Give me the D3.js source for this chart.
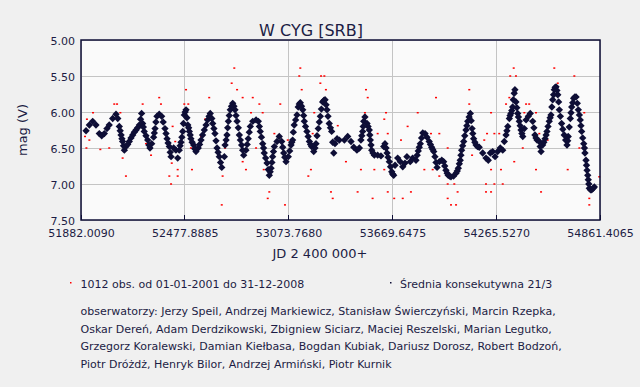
<!DOCTYPE html>
<html>
<head>
<meta charset="utf-8">
<script src="https://cdn.jsdelivr.net/npm/d3@7"></script>
<style>
  body { margin: 0; background: #f0f0f0; }
  svg { display: block; }
  text { font-family: "DejaVu Sans", Verdana, sans-serif; fill: #1c1c44; }
</style>
</head>
<body>
<div id="chart"></div>
<script>
// tick labels
var xTicks = [51882.0090, 52477.8885, 53073.7680, 53669.6475, 54265.5270, 54861.4065];
var yTicks = [5.00, 5.50, 6.00, 6.50, 7.00, 7.50];

// running mean (Srednia konsekutywna 21/3), JD and magnitude (order does not matter)
var meanJD = [51911,51930,51949,51968,51987,52001,52016,52031,52044,52064,52083,52093,52102,52112,52121,52131,52140,52159,52179,52198,
  52217,52230,52236,52245,52265,52278,52288,52299,52307,52318,52331,52345,52364,52376,52389,52399,52414,52427,52437,52446,
  52456,52466,52475,52485,52495,52504,52513,52529,52542,52555,52571,52590,52609,52624,
  52638,52651,52663,52676,52690,52705,52709,52720,52728,52739,52753,52766,52778,52791,52804,52816,52829,52842,52854,52868,
  52887,52900,52911,52925,52934,52950,52963,52973,52982,52992,53007,53020,53034,53046,53059,53072,53088,53097,53106,53122,
  53129,53141,53155,53164,53179,53193,53206,53218,53231,53244,53256,53269,53283,53294,53307,53321,53333,53340,53352,53365,
  53394,53413,53432,53448,53466,53480,53489,53499,53505,53512,53524,53537,53543,53551,53566,53585,53604,53620,53627,53639,
  53652,53666,53677,53685,53700,53715,53729,53742,53753,53772,53786,53805,53818,53830,53844,53857,53868,53881,53895,53907,
  53914,53926,53939,53953,53964,53977,53990,54006,54021,54035,54048,54059,54067,54079,54092,54102,54117,
  54127,54136,54150,54168,54188,54207,54220,54232,54245,54259,54274,54289,54303,54312,54322,54327,54332,54341,54345,54350,
  54355,54360,54364,54369,54373,54379,54389,54398,54408,54418,54427,54437,54450,54461,54475,54488,54500,54513,54523,54532,
  54546,54557,54570,54580,54590,54599,54609,54619,54628,54641,54656,54672,54679,54691,54699,54710,54724,54737,54748,54756,
  54768,54775,54781,54787,54794,54800,54814,54829,
  52107,52117,52126,52150,52169,52188,52207,52224,52240,52255,52272,52303,52312,52354,52370,52382,52394,
  52451,52461,52470,52480,52490,52500,52509,52520,52535,52563,52580,52600,52617,
  52633,52645,52657,52669,52683,52715,52724,52733,52746,52760,52772,52785,52797,52810,52836,52848,
  52906,52918,52930,52942,52957,52968,52978,52987,53040,53052,53080,53092,53101,53114,53135,
  53148,53160,53171,53186,53200,53225,53237,53250,53262,53276,53289,53300,53314,53327,
  53494,53502,53530,53540,53547,53558,53633,53645,53659,53671,53812,53824,53837,53888,53901,53920,
  53970,53984,53998,54042,54054,54063,54073,54085,54097,54110,
  54122,54131,54143,54158,54384,54393,54403,54413,54482,54494,54518,
  54539,54552,54563,54575,54585,54595,54604,54614,54624,54634,54648,54664,
  54676,54685,54695,54705,54717,54731,54743,54752,54762,54772,54784,54791,54797,54807,54822];
var meanMag = [6.26,6.18,6.13,6.18,6.30,6.33,6.30,6.23,6.18,6.09,6.03,6.09,6.20,6.32,6.41,6.53,6.48,6.41,6.32,6.25,
  6.18,6.02,6.16,6.27,6.39,6.50,6.44,6.35,6.23,6.06,6.03,6.06,6.23,6.37,6.48,6.62,6.50,6.53,6.64,6.53,
  6.42,6.27,6.04,5.97,6.18,6.27,6.37,6.46,6.55,6.50,6.39,6.25,6.11,6.02,
  6.16,6.30,6.50,6.62,6.77,6.62,6.46,6.32,6.13,5.97,5.88,5.97,6.13,6.32,6.46,6.60,6.53,6.37,6.20,6.13,
  6.11,6.13,6.27,6.44,6.57,6.71,6.88,6.78,6.62,6.48,6.41,6.34,6.41,6.57,6.69,6.62,6.46,6.39,6.18,6.04,
  5.93,5.87,5.97,6.13,6.27,6.41,6.48,6.55,6.44,6.23,6.06,5.86,5.83,5.97,6.16,6.27,6.57,6.44,6.37,6.39,
  6.39,6.34,6.41,6.49,6.53,6.50,6.39,6.27,6.13,6.07,6.16,6.25,6.39,6.53,6.60,6.60,6.61,6.48,6.44,6.57,
  6.69,6.83,6.88,6.74,6.64,6.69,6.76,6.71,6.62,6.69,6.64,6.67,6.54,6.44,6.29,6.30,6.35,6.41,6.49,6.55,
  6.62,6.77,6.69,6.67,6.69,6.81,6.88,6.90,6.89,6.85,6.78,6.67,6.53,6.41,6.25,6.13,6.02,
  6.23,6.37,6.46,6.49,6.57,6.64,6.67,6.57,6.55,6.62,6.55,6.50,6.53,6.41,6.32,6.26,6.20,6.09,6.05,6.02,
  5.98,5.93,5.83,5.74,5.69,5.86,6.02,6.13,6.25,6.34,6.23,6.11,6.06,6.02,6.13,6.32,6.39,6.41,6.55,6.46,
  6.37,6.27,6.13,6.04,5.83,5.69,5.65,5.76,5.97,6.16,6.32,6.46,6.34,6.09,5.93,5.81,5.79,5.97,6.11,6.27,
  6.44,6.57,6.67,6.81,6.94,7.06,7.08,7.04,
  6.26,6.37,6.47,6.45,6.36,6.28,6.22,6.10,6.21,6.33,6.46,6.29,6.14,6.14,6.30,6.43,6.56,
  6.47,6.35,6.16,6.00,6.08,6.22,6.32,6.42,6.51,6.45,6.32,6.18,6.06,
  6.09,6.23,6.40,6.56,6.70,6.39,6.22,6.05,5.92,5.92,6.05,6.22,6.39,6.53,6.45,6.28,
  6.20,6.35,6.50,6.64,6.80,6.83,6.70,6.55,6.49,6.63,6.54,6.42,6.28,6.11,5.89,
  5.92,6.05,6.20,6.34,6.45,6.50,6.33,6.14,5.96,5.84,5.90,6.06,6.22,6.42,
  6.33,6.20,6.20,6.32,6.46,6.57,6.50,6.63,6.76,6.86,6.60,6.49,6.36,6.45,6.52,6.70,
  6.75,6.85,6.89,6.82,6.72,6.60,6.47,6.33,6.19,6.07,
  6.12,6.30,6.42,6.48,5.94,6.07,6.19,6.30,6.22,6.36,6.48,
  6.42,6.32,6.20,6.08,5.93,5.76,5.66,5.70,5.86,6.06,6.24,6.39,
  6.40,6.21,6.01,5.87,5.79,5.88,6.04,6.19,6.36,6.50,6.74,6.88,7.00,7.08,7.06];

// single observations that stand out of the mean curve
var obsJD = [51916,51951,52073,52089,52108,52236,52331,52341,52485,52475,52498,52618,51905,51930,51993,52044,52121,52140,52179,52284,
  52255,52408,52423,52403,52437,52389,52437,52399,52519,52594,52571,52513,51913,
  52762,52747,52778,52810,52868,52906,53026,52858,52925,52720,52709,52695,52690,52810,52829,52887,52931,52963,52954,53053,
  52992,53141,53135,53149,53260,53279,53288,53256,53221,53212,53202,53187,53317,53327,53356,53069,
  53518,53528,53512,53623,53633,53815,53920,54111,54111,53585,53643,53757,53891,53939,53403,53489,53566,53623,53470,53556,
  53643,53680,53729,53776,53853,53901,53939,53987,54025,53987,54006,54035,54044,53393,53719,53987,54063,
  54366,54346,54379,54599,54714,54619,54322,54341,54437,54455,54236,54427,54771,54494,54213,54255,54283,54197,54513,54561,
  54127,54236,54293,54369,54418,54494,54207,54255,54303,54207,54236,54523,54676,54800,54800,54743,54857,54638];
var obsMag = [6.10,6.01,5.89,5.89,6.01,5.89,5.80,5.89,5.69,5.89,5.89,5.80,6.34,6.39,6.52,6.50,6.64,6.89,6.30,6.60,
  6.44,6.20,6.41,6.71,6.80,6.89,6.89,7.00,6.80,6.10,6.34,6.50,6.50,
  5.39,5.60,5.69,5.80,5.80,5.89,5.89,6.01,6.01,6.39,6.50,6.89,7.29,6.69,6.80,6.50,6.80,7.11,7.20,7.29,
  6.30,5.39,5.50,5.69,5.50,5.50,5.69,5.60,6.01,6.30,6.80,6.89,7.11,7.20,6.19,6.39,
  5.69,5.80,6.01,6.10,6.01,6.01,5.80,5.69,5.89,6.30,6.30,6.20,6.30,6.30,6.69,6.80,6.80,6.80,7.11,7.20,
  7.11,7.20,7.20,7.11,6.80,6.80,6.89,7.00,7.00,7.20,7.29,7.29,7.11,6.39,6.39,6.50,6.60,
  5.39,5.50,5.50,5.39,5.50,5.60,5.89,5.80,5.89,5.89,6.01,6.01,6.01,6.01,6.30,6.30,6.30,6.39,6.30,6.39,
  6.60,6.80,6.80,6.69,6.50,6.80,7.00,7.00,7.00,7.11,7.11,7.11,6.80,7.20,7.29,6.50,6.90,5.97];

var titleText = 'W CYG [SRB]';
var obsLegend = '1012 obs. od 01-01-2001 do 31-12-2008';
var meanLegend = 'Średnia konsekutywna 21/3';
var observers = [
  'obserwatorzy: Jerzy Speil, Andrzej Markiewicz, Stanisław Świerczyński, Marcin Rzepka,',
  'Oskar Dereń, Adam Derdzikowski, Zbigniew Siciarz, Maciej Reszelski, Marian Legutko,',
  'Grzegorz Koralewski, Damian Kiełbasa, Bogdan Kubiak, Dariusz Dorosz, Robert Bodzoń,',
  'Piotr Dróżdż, Henryk Bilor, Andrzej Armiński, Piotr Kurnik'
];

var width = 640, height = 387;
var plot = {left: 81, top: 40, right: 600, bottom: 220};
var navy = '#0e0e36';

var svg = d3.select('#chart').append('svg')
  .attr('width', width)
  .attr('height', height);

svg.append('rect').attr('width', width).attr('height', height).attr('fill', '#f0f0f0');

var x = d3.scaleLinear().domain([xTicks[0], xTicks[xTicks.length - 1]]).range([plot.left, plot.right]);
var y = d3.scaleLinear().domain([yTicks[0], yTicks[yTicks.length - 1]]).range([plot.top, plot.bottom]);

// plot background
svg.append('rect')
  .attr('x', plot.left).attr('y', plot.top)
  .attr('width', plot.right - plot.left).attr('height', plot.bottom - plot.top)
  .attr('fill', '#fafafa');

// grid
var grid = svg.append('g').attr('stroke', '#c4c4c4').attr('stroke-width', 1).attr('shape-rendering', 'crispEdges');
grid.selectAll('.gx').data(xTicks).enter().append('line')
  .attr('x1', d => x(d)).attr('x2', d => x(d))
  .attr('y1', plot.top).attr('y2', plot.bottom);
grid.selectAll('.gy').data(yTicks).enter().append('line')
  .attr('x1', plot.left).attr('x2', plot.right)
  .attr('y1', d => y(d)).attr('y2', d => y(d));

// small ticks on the bottom edge
svg.append('g').selectAll('line').data(xTicks).enter().append('line')
  .attr('x1', d => x(d)).attr('x2', d => x(d))
  .attr('y1', plot.bottom - 5).attr('y2', plot.bottom)
  .attr('stroke', navy).attr('shape-rendering', 'crispEdges');

// observations (red dots)
var obs = obsJD.map((d, i) => ({jd: d, mag: obsMag[i]}));
svg.append('g').selectAll('rect').data(obs).enter().append('rect')
  .attr('x', d => x(d.jd) - 1)
  .attr('y', d => y(d.mag) - 0.75)
  .attr('width', 2).attr('height', 1.5)
  .attr('fill', '#ff0000');

// running mean markers
var mean = meanJD.map((d, i) => ({jd: d, mag: meanMag[i]}));
var diamond = d3.symbol().type(d3.symbolSquare).size(27);
svg.append('g').selectAll('path').data(mean).enter().append('path')
  .attr('d', diamond)
  .attr('transform', d => `translate(${x(d.jd)},${y(d.mag)}) rotate(45)`)
  .attr('fill', navy);

// frame
svg.append('rect')
  .attr('x', plot.left).attr('y', plot.top)
  .attr('width', plot.right - plot.left).attr('height', plot.bottom - plot.top)
  .attr('fill', 'none').attr('stroke', navy).attr('stroke-width', 1.5);

// axes
var xAxis = svg.append('g')
  .attr('transform', `translate(0,${plot.bottom})`)
  .call(d3.axisBottom(x).tickValues(xTicks).tickFormat(d3.format('.4f')).tickSize(0).tickPadding(9.5));
var yAxis = svg.append('g')
  .attr('transform', `translate(${plot.left},0)`)
  .call(d3.axisLeft(y).tickValues(yTicks).tickFormat(d3.format('.2f')).tickSize(0).tickPadding(6));
[xAxis, yAxis].forEach(function(a){
  a.select('.domain').remove();
  a.selectAll('text').style('font-size', '11px').attr('fill', '#1c1c44')
    .style('font-family', '"DejaVu Sans", Verdana, sans-serif');
});
yAxis.selectAll('text').attr('dy', '0.42em');

// title and axis labels
svg.append('text').attr('x', 311).attr('y', 36).attr('text-anchor', 'middle')
  .style('font-size', '16px').attr('fill', '#2a2a50').text(titleText);
svg.append('text').attr('x', 320).attr('y', 258).attr('text-anchor', 'middle')
  .style('font-size', '13px').text('JD 2 400 000+');
svg.append('text').attr('transform', 'translate(27,130) rotate(-90)').attr('text-anchor', 'middle')
  .style('font-size', '13px').text('mag (V)');

// legend
svg.append('rect').attr('x', 70).attr('y', 282).attr('width', 1.5).attr('height', 1.5).attr('fill', '#ff0000');
svg.append('text').attr('x', 80.5).attr('y', 288).style('font-size', '11px').text(obsLegend);
svg.append('rect').attr('x', 390).attr('y', 282).attr('width', 1.5).attr('height', 1.5).attr('fill', navy);
svg.append('text').attr('x', 400).attr('y', 288).style('font-size', '11px').text(meanLegend);

svg.append('g').selectAll('text').data(observers).enter().append('text')
  .attr('x', 80.5)
  .attr('y', (d, i) => 315.3 + i * 17.45)
  .style('font-size', '11px')
  .text(d => d);
</script>
</body>
</html>
